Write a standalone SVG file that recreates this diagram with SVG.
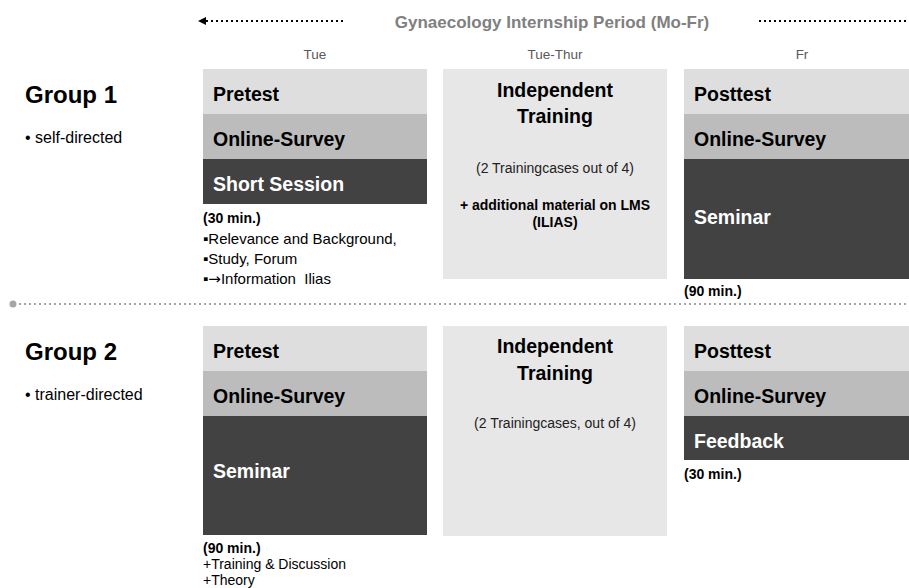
<svg xmlns="http://www.w3.org/2000/svg" width="909" height="588" viewBox="0 0 909 588">
<defs>
<style>
text{font-family:"Liberation Sans",Arial,sans-serif;}
.hdr{font-size:13.5px;fill:#595959;text-anchor:middle;}
.title{font-size:17px;font-weight:bold;fill:#808080;text-anchor:middle;}
.grp{font-size:24px;font-weight:bold;fill:#000;}
.sub{font-size:16px;fill:#000;}
.bt{font-size:19.5px;font-weight:bold;fill:#000;}
.btw{font-size:19.5px;font-weight:bold;fill:#fff;}
.it{font-size:19.5px;font-weight:bold;fill:#000;text-anchor:middle;}
.mid{font-size:14px;fill:#222;text-anchor:middle;}
.midb{font-size:14px;font-weight:bold;fill:#000;text-anchor:middle;}
.dur{font-size:14px;font-weight:bold;fill:#000;}
.note{font-size:15px;fill:#000;}
.note2{font-size:14px;fill:#000;}
.arr{font-family:"DejaVu Sans",sans-serif;font-size:15px;}
.l1{fill:#dedede;}
.l2{fill:#bcbcbc;}
.l3{fill:#424242;}
.ind{fill:#e7e7e7;}
.dots{stroke:#000;stroke-width:2;stroke-dasharray:2 3;fill:none;}
.sep{stroke:#a6a6a6;stroke-width:2;stroke-dasharray:2 3;fill:none;}
</style>
</defs>
<rect width="909" height="588" fill="#fff"/>

<g id="connectors">
<line class="dots" x1="343" y1="21" x2="205" y2="21"/>
<path d="M206,17 L198,21 L206,25 Z" fill="#000"/>
<line class="dots" x1="759" y1="21" x2="909" y2="21"/>
<circle cx="13" cy="304" r="3.5" fill="#a6a6a6"/>
<line class="sep" x1="19" y1="304" x2="909" y2="304"/>
</g>

<g id="header">
<text class="title" x="552" y="28">Gynaecology Internship Period (Mo-Fr)</text>
<text class="hdr" x="315" y="59">Tue</text>
<text class="hdr" x="555" y="59">Tue-Thur</text>
<text class="hdr" x="802" y="59">Fr</text>
</g>

<g id="group1-label">
<text class="grp" x="25" y="103">Group 1</text>
<text class="sub" x="25" y="143">• self-directed</text>
</g>

<g id="g1-tue">
<rect class="l1" x="203" y="69" width="224" height="45"/>
<rect class="l2" x="203" y="114" width="224" height="45"/>
<rect class="l3" x="203" y="159" width="224" height="45"/>
<text class="bt" x="213" y="101">Pretest</text>
<text class="bt" x="213" y="146">Online-Survey</text>
<text class="btw" x="213" y="191">Short Session</text>
<text class="dur" x="203" y="223">(30 min.)</text>
<text class="note" x="203" y="244">▪Relevance and Background,</text>
<text class="note" x="203" y="264">▪Study, Forum</text>
<text class="note" x="203" y="284" xml:space="preserve">▪<tspan class="arr">→</tspan>Information  Ilias</text>
</g>

<g id="g1-tuethur">
<rect class="ind" x="443" y="69" width="224" height="210"/>
<text class="it" x="555" y="97">Independent</text>
<text class="it" x="555" y="123">Training</text>
<text class="mid" x="555" y="173">(2 Trainingcases out of 4)</text>
<text class="midb" x="555" y="210">+ additional material on LMS</text>
<text class="midb" x="555" y="227">(ILIAS)</text>
</g>

<g id="g1-fr">
<rect class="l1" x="684" y="69" width="225" height="45"/>
<rect class="l2" x="684" y="114" width="225" height="45"/>
<rect class="l3" x="684" y="159" width="225" height="120"/>
<text class="bt" x="694" y="101">Posttest</text>
<text class="bt" x="694" y="146">Online-Survey</text>
<text class="btw" x="694" y="224">Seminar</text>
<text class="dur" x="684" y="296">(90 min.)</text>
</g>

<g id="group2-label">
<text class="grp" x="25" y="360">Group 2</text>
<text class="sub" x="25" y="400">• trainer-directed</text>
</g>

<g id="g2-tue">
<rect class="l1" x="203" y="326" width="224" height="45"/>
<rect class="l2" x="203" y="371" width="224" height="45"/>
<rect class="l3" x="203" y="416" width="224" height="119"/>
<text class="bt" x="213" y="358">Pretest</text>
<text class="bt" x="213" y="403">Online-Survey</text>
<text class="btw" x="213" y="478">Seminar</text>
<text class="dur" x="203" y="553">(90 min.)</text>
<text class="note2" x="203" y="569">+Training &amp; Discussion</text>
<text class="note2" x="203" y="585">+Theory</text>
</g>

<g id="g2-tuethur">
<rect class="ind" x="443" y="326" width="224" height="210"/>
<text class="it" x="555" y="353">Independent</text>
<text class="it" x="555" y="380">Training</text>
<text class="mid" x="555" y="428">(2 Trainingcases, out of 4)</text>
</g>

<g id="g2-fr">
<rect class="l1" x="684" y="326" width="225" height="45"/>
<rect class="l2" x="684" y="371" width="225" height="45"/>
<rect class="l3" x="684" y="416" width="225" height="44"/>
<text class="bt" x="694" y="358">Posttest</text>
<text class="bt" x="694" y="403">Online-Survey</text>
<text class="btw" x="694" y="448">Feedback</text>
<text class="dur" x="684" y="479">(30 min.)</text>
</g>
</svg>
